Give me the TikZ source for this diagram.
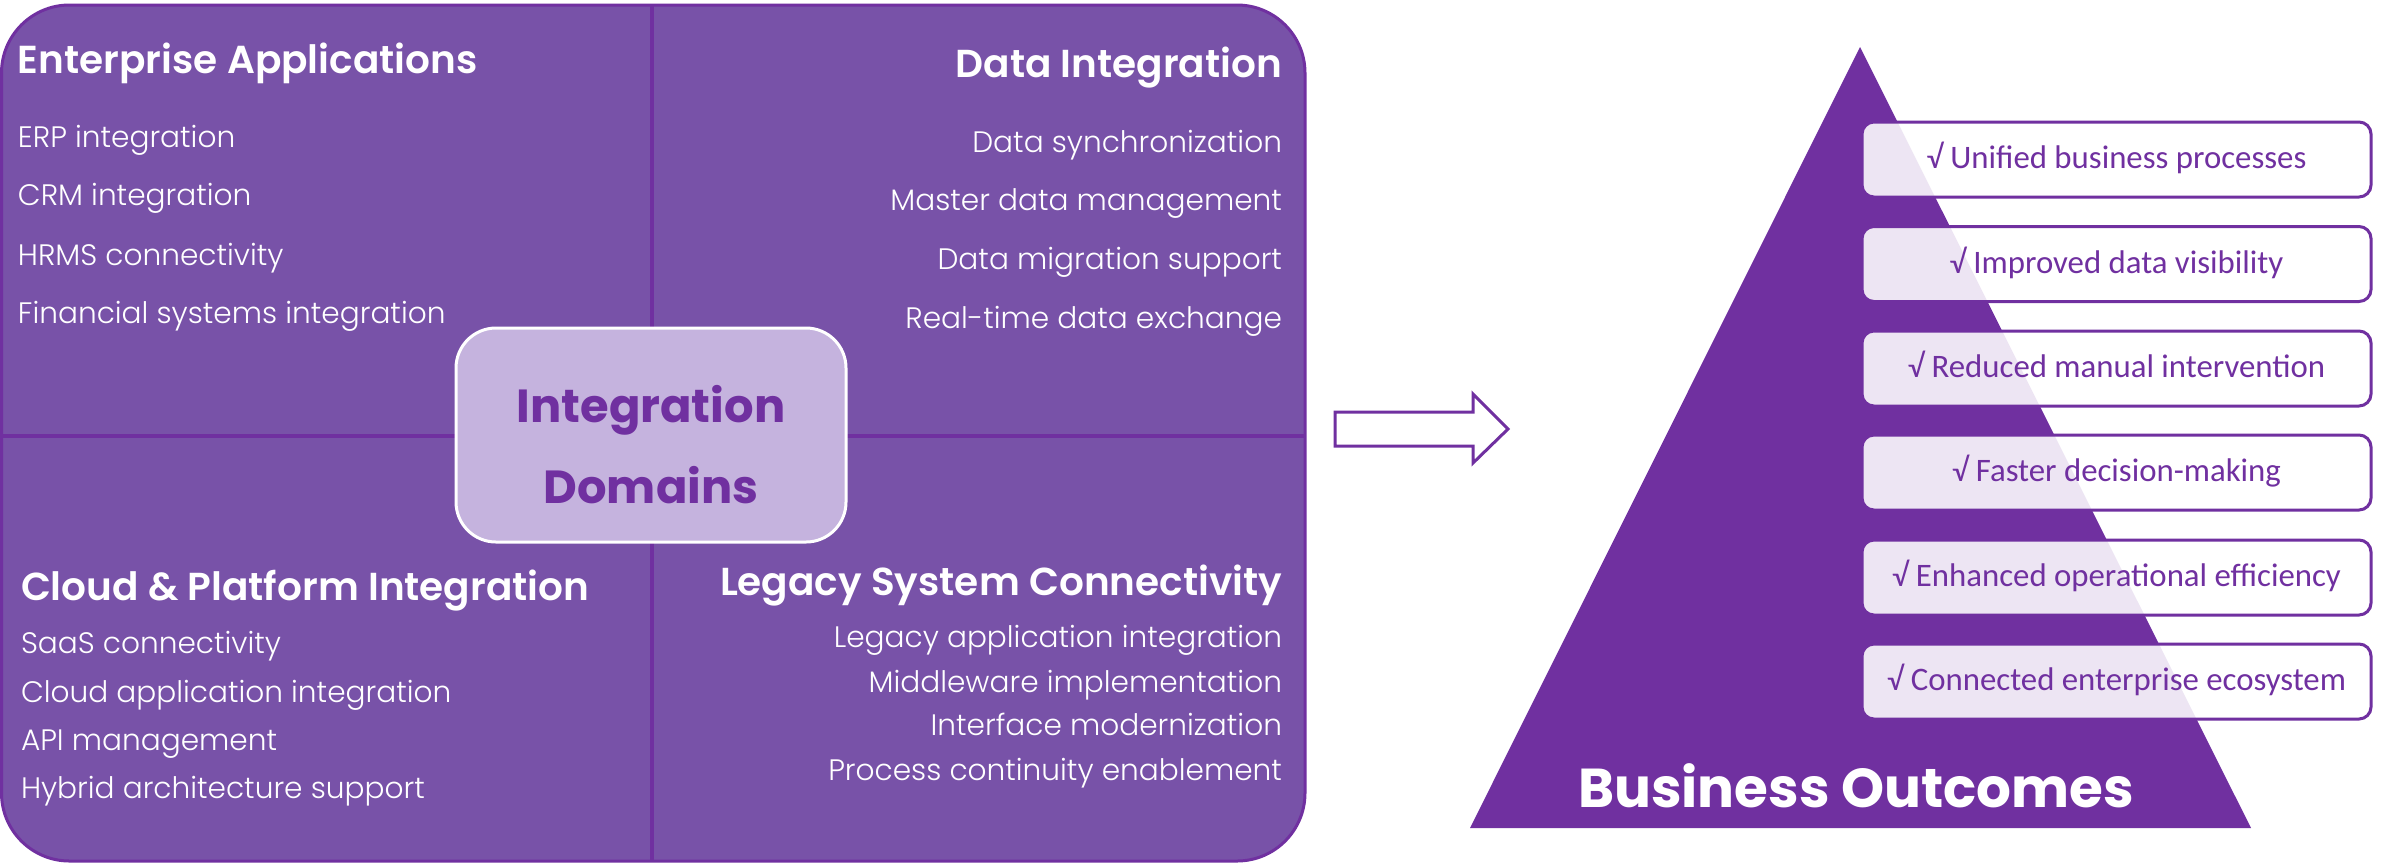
\documentclass[tikz,border=0pt]{standalone}
\usepackage{fontspec}
\setmainfont{Poppins}
\newfontfamily\carlito{Carlito}
\IfFontExistsTF{Poppins Light}{\newfontfamily\bodyfont{Poppins Light}}{\newfontfamily\bodyfont{Poppins}}
\IfFontExistsTF{Poppins SemiBold}{\newfontfamily\semifont{Poppins SemiBold}}{\newfontfamily\semifont{Poppins}[UprightFont=*-Bold]}
\definecolor{deep}{HTML}{7030A0}
\definecolor{panelc}{HTML}{7852A8}
\definecolor{centerc}{HTML}{C5B3DE}
\begin{document}
\begin{tikzpicture}[x=0.5pt,y=-0.5pt,
  every node/.style={inner sep=0pt, outer sep=0pt},
  dtitle/.style={text=white, font=\semifont\fontsize{19.5}{23}\selectfont},
  ditem/.style={text=white, font=\bodyfont\fontsize{14.8}{18}\selectfont},
  ctitle/.style={text=deep, font=\fontsize{23.2}{28}\selectfont\bfseries},
  obox/.style={draw=deep, line width=1.5pt, fill=white, fill opacity=0.88, text opacity=1,
    rounded corners=6pt, minimum width=254.5pt, minimum height=37.5pt,
    text=deep, font=\carlito\fontsize{16.4}{19}\selectfont, text height=1.05em, text depth=0.15em},
  divider/.style={draw=deep, line width=1.8pt}]
\fill[white] (0,0) rectangle (2382,864);
\useasboundingbox (0,0) rectangle (2382,864);
% left panel
\draw[deep, line width=1.5pt, fill=panelc, rounded corners=34pt] (1.5,5) rectangle (1305,861);
\draw[divider] (652,5) -- (652,861);
\draw[divider] (1.5,436) -- (1305,436);
% quadrant 1
\node[dtitle, anchor=base west] (ea) at (18,73) {Enterprise Applications};
\node[ditem, anchor=base west] (ea1) at (18,147) {ERP integration};
\node[ditem, anchor=base west] (ea2) at (18,205) {CRM integration};
\node[ditem, anchor=base west] (ea3) at (18,265) {HRMS connectivity};
\node[ditem, anchor=base west] (ea4) at (18,323) {Financial systems integration};
% quadrant 2
\node[dtitle, anchor=base east] (di) at (1282,77) {Data Integration};
\node[ditem, anchor=base east] (di1) at (1282,152) {Data synchronization};
\node[ditem, anchor=base east] (di2) at (1282,210) {Master data management};
\node[ditem, anchor=base east] (di3) at (1282,269) {Data migration support};
\node[ditem, anchor=base east] (di4) at (1282,328) {Real-time data exchange};
% quadrant 3
\node[dtitle, anchor=base west] (cp) at (21,600) {Cloud \& Platform Integration};
\node[ditem, anchor=base west] (cp1) at (21,653) {SaaS connectivity};
\node[ditem, anchor=base west] (cp2) at (21,702) {Cloud application integration};
\node[ditem, anchor=base west] (cp3) at (21,750) {API management};
\node[ditem, anchor=base west] (cp4) at (21,798) {Hybrid architecture support};
% quadrant 4
\node[dtitle, anchor=base east] (ls) at (1282,595) {Legacy System Connectivity};
\node[ditem, anchor=base east] (ls1) at (1282,647) {Legacy application integration};
\node[ditem, anchor=base east] (ls2) at (1282,692) {Middleware implementation};
\node[ditem, anchor=base east] (ls3) at (1282,735) {Interface modernization};
\node[ditem, anchor=base east] (ls4) at (1282,780) {Process continuity enablement};
% centre box
\node[draw=white, line width=1.5pt, fill=centerc, rounded corners=20pt,
  minimum width=195pt, minimum height=107pt] (dom) at (651,435) {};
\node[ctitle, anchor=base] (dom1) at (651,422) {Integration};
\node[ctitle, anchor=base] (dom2) at (651,503) {Domains};
% block arrow
\draw[deep, line width=1.5pt, fill=white, line join=miter]
  (1335,412) -- (1473,412) -- (1473,394) -- (1508,429) -- (1473,463) -- (1473,446) -- (1335,446) -- cycle;
% pyramid
\fill[deep] (1860,47) -- (1470,828) -- (2251,828) -- cycle;
\node[text=white, font=\fontsize{27.4}{32}\selectfont\bfseries, anchor=base] (bo) at (1856,807) {Business Outcomes};
% outcome boxes
\node[obox] (o1) at (2116.5,159.5) {√ Unified business processes};
\node[obox] (o2) at (2116.5,264) {√ Improved data visibility};
\node[obox] (o3) at (2116.5,368.5) {√ Reduced manual intervention};
\node[obox] (o4) at (2116.5,472.5) {√ Faster decision-making};
\node[obox] (o5) at (2116.5,577.5) {√ Enhanced operational efficiency};
\node[obox] (o6) at (2116.5,681.5) {√ Connected enterprise ecosystem};
\end{tikzpicture}
\end{document}
